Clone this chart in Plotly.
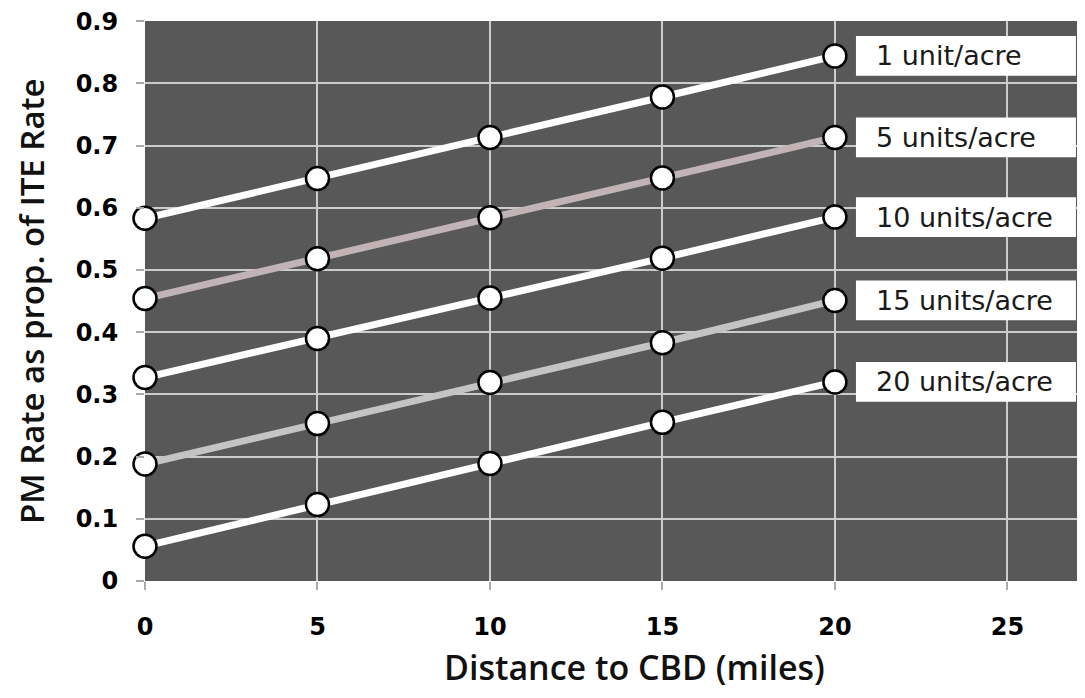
import plotly.graph_objects as go

distance = [0, 5, 10, 15, 20]
series_names = ["1 unit/acre", "5 units/acre", "10 units/acre", "15 units/acre", "20 units/acre"]
rate_1 = [0.583, 0.647, 0.713, 0.778, 0.844]
rate_5 = [0.454, 0.518, 0.584, 0.648, 0.713]
rate_10 = [0.327, 0.390, 0.455, 0.519, 0.585]
rate_15 = [0.188, 0.253, 0.319, 0.383, 0.451]
rate_20 = [0.056, 0.123, 0.189, 0.255, 0.320]
line_colors = ["#ffffff", "#c2b3b6", "#ffffff", "#c4c4c4", "#ffffff"]
x_ticks = [0, 5, 10, 15, 20, 25]
y_ticks = [0, 0.1, 0.2, 0.3, 0.4, 0.5, 0.6, 0.7, 0.8, 0.9]
y_tick_text = ["0", "0.1", "0.2", "0.3", "0.4", "0.5", "0.6", "0.7", "0.8", "0.9"]

all_rates = [rate_1, rate_5, rate_10, rate_15, rate_20]

X_MAX = 27.25
Y_MAX = 0.9002
PX_PER_X = 940 / X_MAX
PX_PER_Y = 563 / Y_MAX

fig = go.Figure()
for name, vals, col in zip(series_names, all_rates, line_colors):
    fig.add_trace(go.Scatter(
        x=distance, y=vals, mode="lines+markers", name=name,
        line=dict(color=col, width=7),
        marker=dict(size=23, color="white", line=dict(color="black", width=2.5)),
        cliponaxis=False, showlegend=False,
    ))

box_left = 20.61
box_w = 220 / PX_PER_X
box_h = 40 / PX_PER_Y
for name, vals in zip(series_names, all_rates):
    yc = vals[-1]
    fig.add_shape(type="rect", xref="x", yref="y",
                  x0=box_left, x1=box_left + box_w, y0=yc - box_h / 2, y1=yc + box_h / 2,
                  fillcolor="white", line=dict(width=0), layer="above")
    fig.add_annotation(
        x=box_left + 18 / PX_PER_X, y=yc, xref="x", yref="y", xanchor="left", yanchor="middle",
        text=name, showarrow=False, align="left",
        font=dict(family="DejaVu Sans", size=27, color="#1a1a1a"),
    )

tick_font = dict(family="DejaVu Sans", size=24, color="black", weight="bold")
title_font = dict(family="Open Sans", size=34, color="#111111", weight=600)
ytitle_font = dict(family="Open Sans", size=33, color="#111111", weight=600)

fig.add_annotation(text="Distance to CBD (miles)", xref="paper", yref="paper",
                   x=(626 - 137) / 940, y=0, yshift=-86, xanchor="center", yanchor="middle",
                   showarrow=False, font=title_font)
fig.add_annotation(text="PM Rate as prop. of ITE Rate", xref="paper", yref="paper",
                   x=0, xshift=-114, y=0.5, xanchor="center", yanchor="middle",
                   textangle=-90, showarrow=False, font=ytitle_font)

fig.update_layout(
    width=1077, height=690,
    margin=dict(l=137, r=0, t=10, b=117),
    paper_bgcolor="white", plot_bgcolor="#585858",
    xaxis=dict(
        range=[0, X_MAX], tickvals=x_ticks, ticktext=[str(v) for v in x_ticks],
        showgrid=True, gridcolor="#cccccc", gridwidth=1.5, zeroline=False,
        ticks="outside", ticklen=8, tickcolor="#aaaaaa", tickwidth=1.5,
        tickfont=tick_font, ticklabelstandoff=16, showline=False,
        ticklabeloverflow="allow",
    ),
    yaxis=dict(
        range=[0, Y_MAX], tickvals=y_ticks, ticktext=y_tick_text,
        showgrid=True, gridcolor="#cccccc", gridwidth=1.5, zeroline=False,
        ticks="outside", ticklen=8, tickcolor="#aaaaaa", tickwidth=1.5,
        tickfont=tick_font, ticklabelstandoff=13, showline=False,
        ticklabeloverflow="allow",
    ),
)

fig.write_html("out.html")
